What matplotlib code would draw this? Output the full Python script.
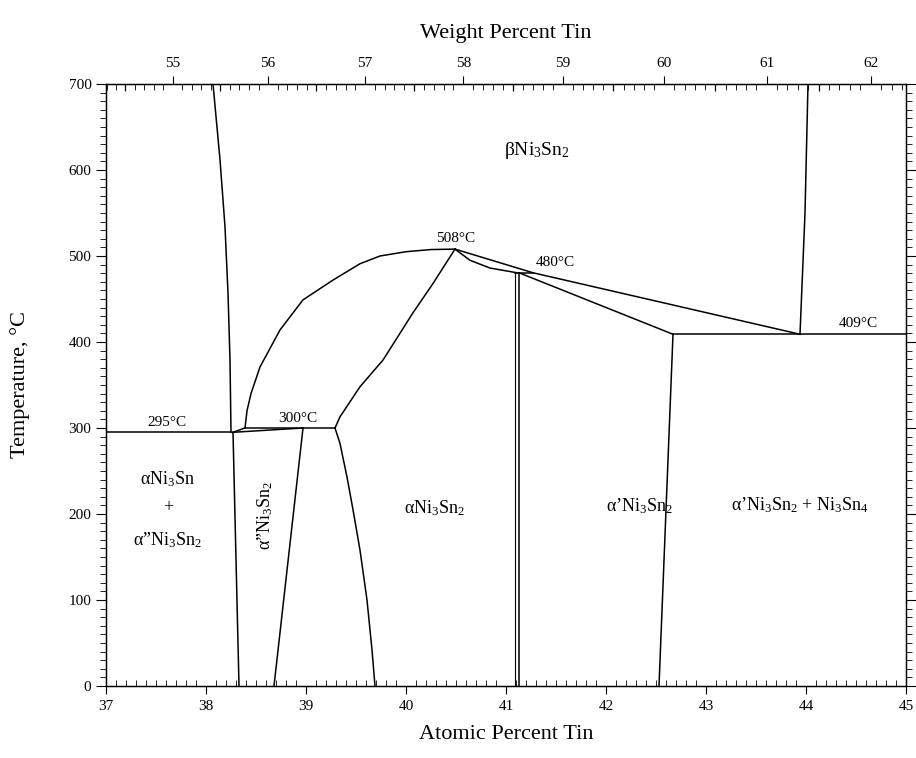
import numpy as np
import matplotlib.pyplot as plt

plt.rcParams['font.family'] = ['Liberation Serif', 'DejaVu Serif']
plt.rcParams['mathtext.fontset'] = 'custom'
plt.rcParams['mathtext.rm'] = 'Liberation Serif'
plt.rcParams['mathtext.it'] = 'Liberation Serif:italic'

# phase boundaries, atomic % Sn vs temperature (°C)
beta_left_x = [38.07, 38.14, 38.19, 38.22, 38.24, 38.25]
beta_left_t = [700, 612, 534, 457, 379, 295]

iso295_x = [37.0, 38.25]
iso295_t = [295, 295]

a1_right_x = [38.27, 38.33]
a1_right_t = [295, 0]

step_x = [38.27, 38.39]
step_t = [295, 300]

iso300_x = [38.39, 39.29]
iso300_t = [300, 300]

wedge_x = [38.27, 38.97]
wedge_t = [295, 300]

a2_right_x = [38.97, 38.68]
a2_right_t = [300, 0]

a3_left_low_x = [39.29, 39.34, 39.41, 39.47, 39.54, 39.61, 39.66, 39.69]
a3_left_low_t = [300, 282, 243, 205, 158, 100, 42, 0]

arc_x = [38.39, 38.41, 38.45, 38.54, 38.74, 38.97, 39.27, 39.54, 39.74, 40.0, 40.25, 40.49]
arc_t = [300, 320, 340, 371, 414, 449, 472, 491, 500, 505, 507.5, 508]

a3_left_up_x = [39.29, 39.34, 39.54, 39.77, 40.07, 40.27, 40.49]
a3_left_up_t = [300, 313, 348, 379, 434, 468, 508]

a3_right_x = [40.49, 40.64, 40.84, 41.11]
a3_right_t = [508, 495, 486, 480.5]

beta_low_x = [40.49, 41.27, 43.94]
beta_low_t = [508, 480.5, 409]

iso480_x = [41.09, 41.27]
iso480_t = [480.5, 480.5]

dbl1_x = [41.09, 41.09]
dbl1_t = [480.5, 0]
dbl2_x = [41.13, 41.13]
dbl2_t = [480.5, 0]

a4_right_x = [41.13, 42.67]
a4_right_t = [480.5, 409]

iso409_x = [42.67, 45.0]
iso409_t = [409, 409]

a4b_x = [42.67, 42.53]
a4b_t = [409, 0]

beta_right_x = [44.02, 43.99, 43.94]
beta_right_t = [700, 550, 409]

wt_ticks = [55, 56, 57, 58, 59, 60, 61, 62]
wt_half = [54.5, 55.5, 56.5, 57.5, 58.5, 59.5, 60.5, 61.5]


def at_to_wt(a):
    a = np.asarray(a, dtype=float)
    return a * 118.71 / (a * 118.71 + (100 - a) * 58.69) * 100


def wt_to_at(w):
    w = np.asarray(w, dtype=float)
    return (w / 118.71) / (w / 118.71 + (100 - w) / 58.69) * 100


fig = plt.figure(figsize=(9.16, 7.58), dpi=100)
ax = fig.add_axes([106 / 916, 1 - 686 / 758, 800 / 916, 602 / 758])

lines = [
    (beta_left_x, beta_left_t), (iso295_x, iso295_t), (a1_right_x, a1_right_t),
    (step_x, step_t), (iso300_x, iso300_t), (wedge_x, wedge_t),
    (a2_right_x, a2_right_t), (a3_left_low_x, a3_left_low_t), (arc_x, arc_t),
    (a3_left_up_x, a3_left_up_t), (a3_right_x, a3_right_t),
    (beta_low_x, beta_low_t), (iso480_x, iso480_t), (dbl2_x, dbl2_t),
    (a4_right_x, a4_right_t), (iso409_x, iso409_t), (a4b_x, a4b_t),
    (beta_right_x, beta_right_t),
]
for xs, ts in lines:
    ax.plot(xs, ts, color='black', lw=1.1)
ax.plot(dbl1_x, dbl1_t, color='black', lw=0.8)

ax.set_xlim(37, 45)
ax.set_ylim(0, 700)
ax.set_xticks(np.arange(37, 46, 1))
ax.set_xticks(np.arange(37, 45.01, 0.1), minor=True)
ax.set_yticks(np.arange(0, 701, 100))
ax.set_yticks(np.arange(0, 701, 10), minor=True)
ax.tick_params(axis='x', which='major', direction='out', length=6, labelsize=11, pad=4)
ax.tick_params(axis='x', which='minor', direction='in', length=4)
ax.tick_params(axis='y', which='major', direction='out', length=7, labelsize=11, right=True)
ax.tick_params(axis='y', which='minor', direction='out', length=4, right=True)
ax.set_xlabel('Atomic Percent Tin', fontsize=16, labelpad=9)
ax.set_ylabel('Temperature, °C', fontsize=16, labelpad=28)

ax2 = ax.twiny()
ax2.set_xlim(37, 45)
ax2.set_xticks(wt_to_at(wt_ticks))
ax2.set_xticklabels([str(w) for w in wt_ticks])
minor_wt = np.round(np.arange(54.3, 62.35, 0.1), 1)
ax2.set_xticks(wt_to_at(minor_wt), minor=True)
ax2.tick_params(axis='x', which='major', direction='out', length=6, labelsize=11, pad=4)
ax2.tick_params(axis='x', which='minor', direction='in', length=4)
ax2.set_xlabel('Weight Percent Tin', fontsize=16, labelpad=14)
half_at = wt_to_at(wt_half)
half_at = half_at[(half_at > 37) & (half_at < 45)]
ax.vlines(half_at, 1 - 0.012, 1, transform=ax.get_xaxis_transform(), color='black', lw=0.9)

for s in ax.spines.values():
    s.set_linewidth(1.0)

fs = 13
ax.text(40.5, 520, '508°C', ha='center', va='center', fontsize=11)
ax.text(41.49, 493, '480°C', ha='center', va='center', fontsize=11)
ax.text(44.52, 421, '409°C', ha='center', va='center', fontsize=11)
ax.text(37.61, 306, '295°C', ha='center', va='center', fontsize=11)
ax.text(38.92, 311, '300°C', ha='center', va='center', fontsize=11)

ax.text(41.31, 623, 'βNi$_3$Sn$_2$', ha='center', va='center', fontsize=14)
ax.text(37.62, 240, 'αNi$_3$Sn', ha='center', va='center', fontsize=fs)
ax.text(37.62, 207, '+', ha='center', va='center', fontsize=fs)
ax.text(37.62, 170, 'α\u201dNi$_3$Sn$_2$', ha='center', va='center', fontsize=fs)
ax.text(38.59, 198, 'α\u201dNi$_3$Sn$_2$', ha='center', va='center', fontsize=fs,
        rotation=90)
ax.text(40.29, 207, 'αNi$_3$Sn$_2$', ha='center', va='center', fontsize=fs)
ax.text(42.34, 209, 'α\u2019Ni$_3$Sn$_2$', ha='center', va='center', fontsize=fs)
ax.text(43.94, 210, 'α\u2019Ni$_3$Sn$_2$ + Ni$_3$Sn$_4$', ha='center', va='center',
        fontsize=fs)

fig.savefig('out.png', dpi=100)
